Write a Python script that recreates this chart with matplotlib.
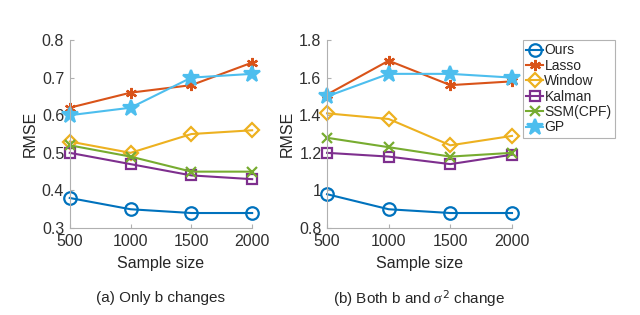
import matplotlib
matplotlib.use("Agg")
import matplotlib.pyplot as plt

plt.rcParams['font.family'] = ['Liberation Sans', 'DejaVu Sans']
plt.rcParams['mathtext.fontset'] = 'custom'
plt.rcParams['mathtext.it'] = 'Liberation Serif:italic'

sizes = [500, 1000, 1500, 2000]
methods = ["Ours", "Lasso", "Window", "Kalman", "SSM(CPF)", "GP"]

a_ours = [0.38, 0.35, 0.34, 0.34]
a_lasso = [0.62, 0.66, 0.68, 0.74]
a_window = [0.53, 0.50, 0.55, 0.56]
a_kalman = [0.50, 0.47, 0.44, 0.43]
a_ssm = [0.52, 0.49, 0.45, 0.45]
a_gp = [0.60, 0.62, 0.70, 0.71]

b_ours = [0.98, 0.90, 0.88, 0.88]
b_lasso = [1.51, 1.69, 1.56, 1.58]
b_window = [1.41, 1.38, 1.24, 1.29]
b_kalman = [1.20, 1.18, 1.14, 1.19]
b_ssm = [1.28, 1.23, 1.18, 1.20]
b_gp = [1.50, 1.62, 1.62, 1.60]

colors = ["#0072BD", "#D95319", "#EDB120", "#7E2F8E", "#77AC30", "#4DBEEE"]
markers = ["o", (6, 2, 0), "D", "s", "x", "*"]
msizes = [9, 8, 7.5, 7.5, 7, 12]
fills = ["none", "full", "none", "none", "full", "full"]

series_a = [a_ours, a_lasso, a_window, a_kalman, a_ssm, a_gp]
series_b = [b_ours, b_lasso, b_window, b_kalman, b_ssm, b_gp]

fig = plt.figure(figsize=(6.4, 3.15), dpi=100)
ax1 = fig.add_axes([0.109, 0.276, 0.285, 0.597])
ax2 = fig.add_axes([0.511, 0.276, 0.289, 0.597])

def draw(ax, series, ylim, yticks, yticklabels):
    handles = []
    for s, c, m, ms, f, name in zip(series, colors, markers, msizes, fills, methods):
        kw = dict(color=c, marker=m, markersize=ms, linewidth=1.5, markeredgewidth=1.6, label=name)
        if f == "none":
            kw["markerfacecolor"] = "none"
        else:
            kw["markerfacecolor"] = c
        h, = ax.plot(sizes, s, **kw)
        handles.append(h)
    ax.set_xlim(500, 2000)
    ax.set_ylim(*ylim)
    ax.set_xticks(sizes)
    ax.set_yticks(yticks)
    ax.set_yticklabels(yticklabels)
    for sp in ["top", "right"]:
        ax.spines[sp].set_visible(False)
    for sp in ["left", "bottom"]:
        ax.spines[sp].set_color("#b0b0b0")
        ax.spines[sp].set_linewidth(0.8)
    ax.tick_params(direction="in", length=3, color="#b0b0b0", labelsize=11.5, labelcolor="#303030", pad=4)
    ax.set_xlabel("Sample size", fontsize=11.5, color="#262626", labelpad=5)
    ax.set_ylabel("RMSE", fontsize=11.5, color="#262626", labelpad=3)
    for ln in ax.lines:
        ln.set_clip_on(False)
    return handles

draw(ax1, series_a, (0.3, 0.8), [0.3, 0.4, 0.5, 0.6, 0.7, 0.8], ["0.3", "0.4", "0.5", "0.6", "0.7", "0.8"])
h = draw(ax2, series_b, (0.8, 1.8), [0.8, 1.0, 1.2, 1.4, 1.6, 1.8], ["0.8", "1", "1.2", "1.4", "1.6", "1.8"])

leg = fig.legend(handles=h, loc="upper left", bbox_to_anchor=(0.817, 0.873), fontsize=10,
                 frameon=True, fancybox=False, edgecolor="#a0a0a0", borderpad=0.25,
                 handlelength=1.2, handletextpad=0.1, labelspacing=0.1, borderaxespad=0)
leg.get_frame().set_linewidth(0.8)
for t in leg.get_texts():
    t.set_color("#262626")

fig.text(0.25, 0.04, "(a) Only b changes", ha="center", fontsize=11, color="#262626")
fig.text(0.655, 0.035, r"(b) Both b and $\sigma^2$ change", ha="center", fontsize=11, color="#262626")

fig.savefig("out.png", dpi=100)
